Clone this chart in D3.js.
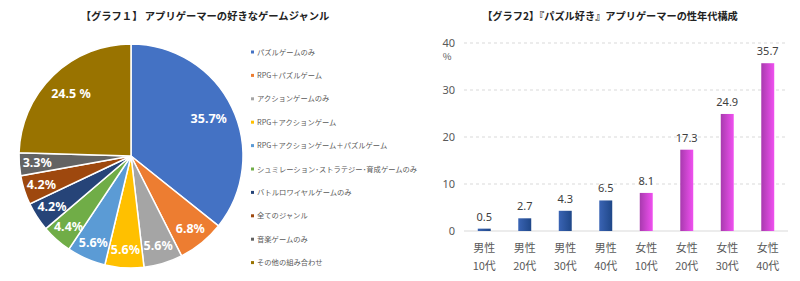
<!DOCTYPE html>
<html>
<head>
<meta charset="utf-8">
<script src="https://cdn.jsdelivr.net/npm/d3@7"></script>
<style>
  body { margin: 0; background: #fff; }
  svg { display: block; font-family: "Noto Sans CJK JP", "Noto Sans", sans-serif; }
</style>
</head>
<body>
<div id="chart"></div>
<script>
// graph 1 data
var genres = ["パズルゲームのみ", "RPG＋パズルゲーム", "アクションゲームのみ", "RPG＋アクションゲーム",
  "RPG＋アクションゲーム＋パズルゲーム", "シュミレーション･ストラテジー･育成ゲームのみ",
  "バトルロワイヤルゲームのみ", "全てのジャンル", "音楽ゲームのみ", "その他の組み合わせ"];
var shares = [35.7, 6.8, 5.6, 5.6, 5.6, 4.4, 4.2, 4.2, 3.3, 24.5];
var shareLabels = ["35.7%", "6.8%", "5.6%", "5.6%", "5.6%", "4.4%", "4.2%", "4.2%", "3.3%", "24.5 %"];
var pieColors = ["#4472C4", "#ED7D31", "#A5A5A5", "#FFC000", "#5B9BD5", "#70AD47", "#264478", "#9E480E", "#636363", "#997300"];

// graph 2 data
var sexes = ["男性", "男性", "男性", "男性", "女性", "女性", "女性", "女性"];
var ages = ["10代", "20代", "30代", "40代", "10代", "20代", "30代", "40代"];
var puzzleShare = [0.5, 2.7, 4.3, 6.5, 8.1, 17.3, 24.9, 35.7];
var yTicks = [0, 10, 20, 30, 40];

var W = 800, H = 281;
var svg = d3.select("#chart").append("svg")
  .attr("width", W)
  .attr("height", H);

var defs = svg.append("defs");
var gMale = defs.append("linearGradient").attr("id", "gMale").attr("x1", "0").attr("x2", "1");
gMale.append("stop").attr("offset", "0").attr("stop-color", "#3A64B4");
gMale.append("stop").attr("offset", "1").attr("stop-color", "#1F4788");
var gFemale = defs.append("linearGradient").attr("id", "gFemale").attr("x1", "0").attr("x2", "1");
gFemale.append("stop").attr("offset", "0").attr("stop-color", "#A83AAE");
gFemale.append("stop").attr("offset", "1").attr("stop-color", "#F050F0");

// ---- pie ----
svg.append("text")
  .attr("x", 205).attr("y", 20)
  .attr("text-anchor", "middle")
  .attr("font-size", 10.3).attr("font-weight", "bold").attr("fill", "#222")
  .text("【グラフ１】 アプリゲーマーの好きなゲームジャンル");

var radius = 112;
var pieG = svg.append("g").attr("transform", "translate(131,156)");

var pie = d3.pie().sort(null).value(function(d) { return d.v; });
var slices = pie(shares.map(function(v, i) { return {v: v, i: i}; }));
var arc = d3.arc().innerRadius(0).outerRadius(radius);

function labelPos(d) {
  // big slices get their label a bit further in
  var r = d.data.v > 20 ? radius * 0.77 : radius * 0.84;
  var a = (d.startAngle + d.endAngle) / 2;
  return [Math.sin(a) * r, -Math.cos(a) * r];
}

pieG.selectAll("path")
  .data(slices)
  .enter()
  .append("path")
  .attr("d", arc)
  .attr("fill", function(d) { return pieColors[d.data.i]; })
  .attr("stroke", "#fff")
  .style("stroke-width", "1.5px");

pieG.selectAll("text.lab")
  .data(slices)
  .enter()
  .append("text")
  .attr("class", "lab")
  .attr("transform", function(d) { return "translate(" + labelPos(d) + ")"; })
  .attr("text-anchor", "middle")
  .attr("dy", "0.35em")
  .attr("font-family", "'Noto Sans', sans-serif")
  .attr("font-size", 12.5).attr("font-weight", "bold").attr("fill", "#fff")
  .text(function(d) { return shareLabels[d.data.i]; });

// legend
var leg = svg.append("g").selectAll("g")
  .data(genres)
  .enter()
  .append("g")
  .attr("transform", function(d, i) { return "translate(251," + (52 + i * 23.4) + ")"; });
leg.append("rect")
  .attr("x", 0).attr("y", -1.5).attr("width", 3).attr("height", 3)
  .attr("fill", function(d, i) { return pieColors[i]; });
leg.append("text")
  .attr("x", 6).attr("dy", "0.35em")
  .attr("font-size", 7.3).attr("fill", "#595959")
  .text(function(d) { return d; });

// ---- bars ----
svg.append("text")
  .attr("x", 610).attr("y", 20)
  .attr("text-anchor", "middle")
  .attr("font-size", 10.2).attr("font-weight", "bold").attr("fill", "#222")
  .text("【グラフ2】『パズル好き』アプリゲーマーの性年代構成");

var x = d3.scaleBand()
  .domain(d3.range(puzzleShare.length))
  .range([464, 788])
  .paddingInner(0.68)
  .paddingOuter(0.34);
var y = d3.scaleLinear().domain([0, 40]).range([231, 43]);

var grid = svg.append("g");
grid.selectAll("line")
  .data(yTicks.filter(function(t) { return t > 0; }))
  .enter()
  .append("line")
  .attr("x1", 464).attr("x2", 788)
  .attr("y1", function(d) { return y(d); }).attr("y2", function(d) { return y(d); })
  .attr("stroke", "#D9D9D9").attr("stroke-dasharray", "3,3");
svg.append("line")
  .attr("x1", 464).attr("x2", 788)
  .attr("y1", y(0)).attr("y2", y(0))
  .attr("stroke", "#D9D9D9");

var yAxis = svg.append("g")
  .attr("transform", "translate(455,0)")
  .call(d3.axisLeft(y).tickValues(yTicks).tickSize(0).tickPadding(0));
yAxis.select(".domain").remove();
yAxis.selectAll("text").attr("font-size", 11).attr("fill", "#595959")
  .attr("font-family", "'Noto Sans', sans-serif");
svg.append("text")
  .attr("x", 447).attr("y", y(40) + 17)
  .attr("text-anchor", "middle")
  .attr("font-size", 9.5).attr("fill", "#595959")
  .text("%");

svg.append("g").selectAll("rect")
  .data(puzzleShare)
  .enter()
  .append("rect")
  .attr("x", function(d, i) { return x(i); })
  .attr("width", x.bandwidth())
  .attr("y", function(d) { return y(d); })
  .attr("height", function(d) { return y(0) - y(d); })
  .attr("fill", function(d, i) { return sexes[i] == "男性" ? "url(#gMale)" : "url(#gFemale)"; });

svg.append("g").selectAll("text")
  .data(puzzleShare)
  .enter()
  .append("text")
  .attr("x", function(d, i) { return x(i) + x.bandwidth() / 2; })
  .attr("y", function(d) { return y(d) - 8; })
  .attr("text-anchor", "middle")
  .attr("font-family", "'Noto Sans', sans-serif")
  .attr("font-size", 11).attr("fill", "#404040")
  .text(function(d) { return d; });

var cats = svg.append("g").selectAll("text")
  .data(sexes)
  .enter()
  .append("text")
  .attr("text-anchor", "middle")
  .attr("font-size", 11).attr("fill", "#595959");
cats.append("tspan")
  .attr("x", function(d, i) { return x(i) + x.bandwidth() / 2; })
  .attr("y", 252)
  .text(function(d) { return d; });
cats.append("tspan")
  .attr("x", function(d, i) { return x(i) + x.bandwidth() / 2; })
  .attr("y", 270)
  .text(function(d, i) { return ages[i]; });
</script>
</body>
</html>
